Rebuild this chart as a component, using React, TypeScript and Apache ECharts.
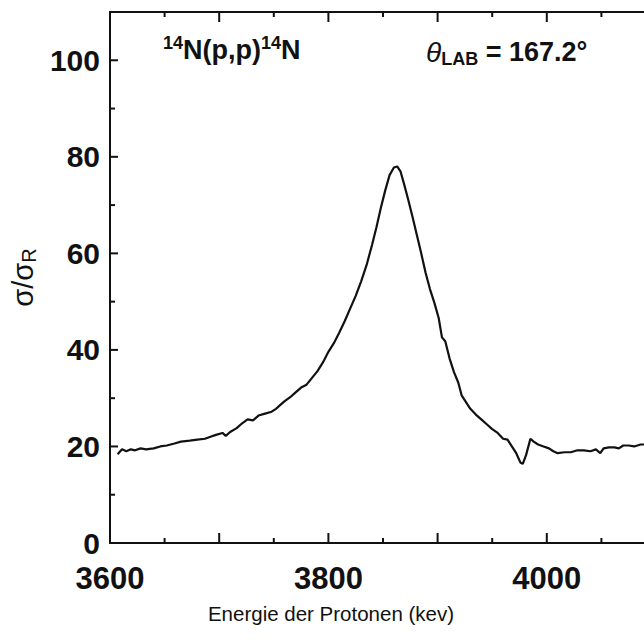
import React, { useEffect, useRef } from "react";
import * as echarts from "echarts";

const energy = [
  3607, 3611, 3615, 3619, 3623, 3628, 3633, 3640, 3646, 3652, 3659, 3665, 3673, 3680, 3687, 3692, 3697,
  3703, 3706, 3710, 3716, 3721, 3726, 3731, 3736, 3742, 3748, 3752, 3756, 3760, 3765, 3770, 3775, 3780,
  3785, 3790, 3795, 3800, 3805, 3810, 3815, 3820, 3825, 3830, 3835, 3840, 3844, 3848, 3852, 3856, 3860,
  3863, 3866, 3869, 3873, 3877, 3881, 3885, 3889, 3893, 3897, 3901, 3904, 3907, 3911, 3915, 3919, 3922,
  3926, 3930, 3935, 3940, 3945, 3950, 3955, 3960, 3964, 3968, 3972, 3976, 3978, 3981, 3985, 3988, 3992,
  3997, 4002, 4006, 4010, 4016, 4022, 4028, 4034, 4040, 4045, 4049, 4052, 4057, 4062, 4066, 4070, 4075,
  4080, 4086, 4092,
];
const ratio = [
  18.4, 19.4, 19.0, 19.4, 19.2, 19.6, 19.4, 19.6, 20.0, 20.2, 20.6, 21.0, 21.2, 21.4, 21.6, 22.0, 22.4,
  22.8, 22.2, 23.0, 23.8, 24.8, 25.6, 25.4, 26.4, 26.8, 27.2, 27.8, 28.6, 29.4, 30.2, 31.2, 32.2, 32.8,
  34.2, 35.6, 37.4, 39.6, 41.4, 43.6, 46.0, 48.6, 51.2, 54.2, 57.6, 61.8, 65.4, 69.4, 73.0, 76.2, 77.8,
  78.0, 77.0, 74.6, 71.2, 67.6, 63.8, 60.0, 56.0, 52.6, 49.8, 46.6, 42.6, 41.8, 38.2, 35.4, 33.2, 30.6,
  29.2, 27.8, 26.6, 25.6, 24.6, 23.6, 22.8, 21.6, 21.4, 20.0, 18.6, 16.6, 16.4, 18.2, 21.6, 21.0, 20.4,
  20.0, 19.6, 19.0, 18.6, 18.8, 18.8, 19.2, 19.2, 19.0, 19.4, 18.6, 19.6, 19.8, 19.8, 19.6, 20.2, 20.2,
  20.0, 20.4, 20.4,
];
const xLabelValues = [3600, 3800, 4000];
const yLabelValues = [0, 20, 40, 60, 80, 100];
const xMajorTicks = [3600, 3700, 3800, 3900, 4000, 4100];
const xMinorTicks = [3650, 3750, 3850, 3950, 4050];
const yMajorTicks = [0, 20, 40, 60, 80, 100];
const yMinorTicks = [10, 30, 50, 70, 90];

const FONT = "'Liberation Sans', Arial, Helvetica, sans-serif";
const INK = "#111111";
const X_MIN = 3600;
const X_MAX = 4100;
const Y_MIN = 0;
const Y_MAX = 110;

function xAx(position: string) {
  return {
    type: "value",
    position,
    min: X_MIN,
    max: X_MAX,
    interval: 100,
    axisLine: { show: true, onZero: false, lineStyle: { color: INK, width: 2 } },
    axisTick: { show: false },
    axisLabel: { show: false },
    splitLine: { show: false },
  };
}

function yAx(position: string) {
  return {
    type: "value",
    position,
    min: Y_MIN,
    max: Y_MAX,
    interval: 20,
    axisLine: { show: true, onZero: false, lineStyle: { color: INK, width: 2 } },
    axisTick: { show: false },
    axisLabel: { show: false },
    splitLine: { show: false },
  };
}

const textGraphics = [
  {
    type: "text",
    x: 163,
    y: 50,
    style: {
      text: "{s|14}{m|N(p,p)}{s|14}{m|N}",
      verticalAlign: "middle",
      rich: {
        s: { fontSize: 18, fontWeight: "bold", fontFamily: FONT, fill: INK, lineHeight: 18, verticalAlign: "top" },
        m: { fontSize: 27, fontWeight: "bold", fontFamily: FONT, fill: INK, lineHeight: 32 },
      },
    },
  },
  {
    type: "text",
    x: 426,
    y: 52,
    style: {
      text: "{t|θ}{b|LAB}{m| = 167.2°}",
      verticalAlign: "middle",
      rich: {
        t: { fontSize: 28, fontStyle: "italic", fontFamily: FONT, fill: INK, lineHeight: 32 },
        b: { fontSize: 18, fontWeight: "bold", fontFamily: FONT, fill: INK, lineHeight: 17, verticalAlign: "bottom" },
        m: { fontSize: 27, fontWeight: "bold", fontFamily: FONT, fill: INK, lineHeight: 32 },
      },
    },
  },
  {
    type: "text",
    x: 331,
    y: 613,
    style: {
      text: "Energie der Protonen (kev)",
      align: "center",
      verticalAlign: "middle",
      fontSize: 20.5,
      fontFamily: FONT,
      fill: INK,
    },
  },
];

export default function App() {
  const ref = useRef<HTMLDivElement>(null);
  useEffect(() => {
    if (!ref.current) return;
    const chart = echarts.init(ref.current, undefined, { renderer: "svg" });
    chart.setOption({
      animation: false,
      grid: { left: 110, top: 12, right: 24, bottom: 97, containLabel: false, outerBoundsMode: "none" },
      xAxis: [
        {
          ...xAx("bottom"),
          axisLabel: {
            show: true,
            margin: 20,
            fontSize: 31,
            fontWeight: "bold",
            fontFamily: FONT,
            color: INK,
            formatter: (v: number) => (xLabelValues.includes(v) ? String(v) : ""),
          },
        },
        xAx("top"),
      ],
      yAxis: [
        {
          ...yAx("left"),
          axisLabel: {
            show: true,
            margin: 10,
            fontSize: 30,
            fontWeight: "bold",
            fontFamily: FONT,
            color: INK,
            showMaxLabel: false,
            formatter: (v: number) => (yLabelValues.includes(v) ? String(v) : ""),
          },
          name: "{a|σ/σ}{b|R}",
          nameLocation: "middle",
          nameGap: 70,
          nameRotate: 90,
          nameTextStyle: {
            rich: {
              a: { fontSize: 29, fontFamily: FONT, color: INK, lineHeight: 32 },
              b: { fontSize: 20, fontFamily: FONT, color: INK, lineHeight: 18, verticalAlign: "bottom" },
            },
          },
        },
        yAx("right"),
      ],
      series: [
        {
          type: "line",
          xAxisIndex: 0,
          yAxisIndex: 0,
          data: energy.map((e, i) => [e, ratio[i]]),
          showSymbol: false,
          symbol: "none",
          lineStyle: { color: INK, width: 2.2 },
          silent: true,
        },
      ],
      graphic: textGraphics,
    });

    // tick marks placed through the axes' own scales
    const finder = { xAxisIndex: 0, yAxisIndex: 0 };
    const px = (x: number, y: number) => chart.convertToPixel(finder as any, [x, y]) as number[];
    const tickLine = (p: number[], dx: number, dy: number) => ({
      type: "line",
      z: 100,
      silent: true,
      shape: { x1: p[0], y1: p[1], x2: p[0] + dx, y2: p[1] + dy },
      style: { stroke: INK, lineWidth: 2 },
    });
    const ticks: any[] = [];
    xMajorTicks.forEach((v) => {
      ticks.push(tickLine(px(v, Y_MIN), 0, -10));
      ticks.push(tickLine(px(v, Y_MAX), 0, 10));
    });
    xMinorTicks.forEach((v) => {
      ticks.push(tickLine(px(v, Y_MIN), 0, -5));
      ticks.push(tickLine(px(v, Y_MAX), 0, 5));
    });
    yMajorTicks.forEach((v) => {
      ticks.push(tickLine(px(X_MIN, v), 8, 0));
      ticks.push(tickLine(px(X_MAX, v), -8, 0));
    });
    yMinorTicks.forEach((v) => {
      ticks.push(tickLine(px(X_MIN, v), 5, 0));
      ticks.push(tickLine(px(X_MAX, v), -5, 0));
    });
    chart.setOption({ graphic: [...textGraphics, ...ticks] });

    return () => chart.dispose();
  }, []);
  return (
    <div style={{ position: "absolute", left: 0, top: 0, width: 644, height: 640, overflow: "hidden", background: "#fff" }}>
      <div ref={ref} style={{ width: 680, height: 640, background: "#fff" }} />
    </div>
  );
}
